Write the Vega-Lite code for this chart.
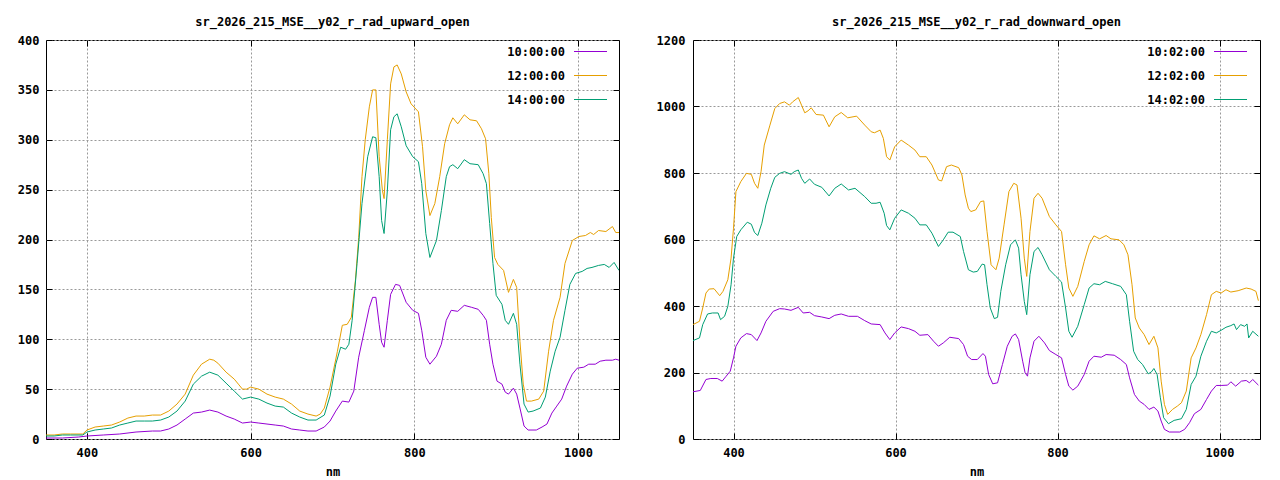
{
  "$schema": "https://vega.github.io/schema/vega-lite/v6.json",
  "background": "white",
  "padding": {"left": 5, "top": 15, "right": 5, "bottom": 5},
  "config": {
    "font": "DejaVu Sans Mono",
    "view": {"stroke": "black", "strokeWidth": 1},
    "title": {"font": "DejaVu Sans Mono", "fontSize": 12, "fontWeight": "bold", "color": "black", "offset": 5, "anchor": "middle"},
    "axis": {
      "domain": false,
      "tickColor": "black",
      "tickSize": -6,
      "labelFont": "DejaVu Sans Mono",
      "labelFontSize": 12,
      "labelFontWeight": "bold",
      "labelColor": "black",
      "labelPadding": 14,
      "format": "d",
      "grid": true,
      "gridColor": "#999999",
      "gridDash": [2, 2],
      "titleFont": "DejaVu Sans Mono",
      "titleFontSize": 12,
      "titleFontWeight": "bold",
      "titleColor": "black"
    },
    "legend": {
      "orient": "none",
      "legendY": -6,
      "title": null,
      "padding": 0,
      "symbolType": "stroke",
      "symbolSize": 1089,
      "symbolStrokeWidth": 1.2,
      "symbolOffset": 0,
      "labelOffset": -43,
      "labelAlign": "right",
      "labelFont": "DejaVu Sans Mono",
      "labelFontSize": 12,
      "labelFontWeight": "bold",
      "labelColor": "black",
      "rowPadding": -22
    }
  },
  "datasets": {
    "up": [
      {"t":"10:00:00","nm":350,"v":1},{"t":"10:00:00","nm":370,"v":1},{"t":"10:00:00","nm":390,"v":2},{"t":"10:00:00","nm":400,"v":3},{"t":"10:00:00","nm":420,"v":4},{"t":"10:00:00","nm":440,"v":5},{"t":"10:00:00","nm":460,"v":7},{"t":"10:00:00","nm":480,"v":8},{"t":"10:00:00","nm":490,"v":8},{"t":"10:00:00","nm":500,"v":10},{"t":"10:00:00","nm":510,"v":14},{"t":"10:00:00","nm":520,"v":20},{"t":"10:00:00","nm":530,"v":26},{"t":"10:00:00","nm":540,"v":27},{"t":"10:00:00","nm":550,"v":29},{"t":"10:00:00","nm":560,"v":27},{"t":"10:00:00","nm":570,"v":23},{"t":"10:00:00","nm":580,"v":20},{"t":"10:00:00","nm":590,"v":16},{"t":"10:00:00","nm":600,"v":17},{"t":"10:00:00","nm":610,"v":16},{"t":"10:00:00","nm":620,"v":15},{"t":"10:00:00","nm":630,"v":14},{"t":"10:00:00","nm":640,"v":13},{"t":"10:00:00","nm":650,"v":10},{"t":"10:00:00","nm":660,"v":9},{"t":"10:00:00","nm":670,"v":8},{"t":"10:00:00","nm":680,"v":8},{"t":"10:00:00","nm":690,"v":12},{"t":"10:00:00","nm":697,"v":18},{"t":"10:00:00","nm":704,"v":28},{"t":"10:00:00","nm":712,"v":38},{"t":"10:00:00","nm":720,"v":37},{"t":"10:00:00","nm":726,"v":48},{"t":"10:00:00","nm":732,"v":82},{"t":"10:00:00","nm":739,"v":109},{"t":"10:00:00","nm":745,"v":132},{"t":"10:00:00","nm":749,"v":142},{"t":"10:00:00","nm":753,"v":142},{"t":"10:00:00","nm":757,"v":115},{"t":"10:00:00","nm":760,"v":97},{"t":"10:00:00","nm":763,"v":92},{"t":"10:00:00","nm":767,"v":119},{"t":"10:00:00","nm":771,"v":145},{"t":"10:00:00","nm":777,"v":155},{"t":"10:00:00","nm":782,"v":154},{"t":"10:00:00","nm":790,"v":137},{"t":"10:00:00","nm":798,"v":129},{"t":"10:00:00","nm":805,"v":126},{"t":"10:00:00","nm":809,"v":109},{"t":"10:00:00","nm":814,"v":82},{"t":"10:00:00","nm":819,"v":75},{"t":"10:00:00","nm":827,"v":83},{"t":"10:00:00","nm":833,"v":95},{"t":"10:00:00","nm":839,"v":119},{"t":"10:00:00","nm":845,"v":129},{"t":"10:00:00","nm":853,"v":128},{"t":"10:00:00","nm":861,"v":134},{"t":"10:00:00","nm":870,"v":132},{"t":"10:00:00","nm":878,"v":130},{"t":"10:00:00","nm":884,"v":124},{"t":"10:00:00","nm":888,"v":119},{"t":"10:00:00","nm":892,"v":95},{"t":"10:00:00","nm":896,"v":75},{"t":"10:00:00","nm":901,"v":58},{"t":"10:00:00","nm":907,"v":55},{"t":"10:00:00","nm":911,"v":47},{"t":"10:00:00","nm":915,"v":45},{"t":"10:00:00","nm":921,"v":51},{"t":"10:00:00","nm":925,"v":45},{"t":"10:00:00","nm":929,"v":31},{"t":"10:00:00","nm":934,"v":13},{"t":"10:00:00","nm":939,"v":9},{"t":"10:00:00","nm":949,"v":9},{"t":"10:00:00","nm":956,"v":12},{"t":"10:00:00","nm":962,"v":15},{"t":"10:00:00","nm":968,"v":26},{"t":"10:00:00","nm":974,"v":33},{"t":"10:00:00","nm":980,"v":40},{"t":"10:00:00","nm":986,"v":53},{"t":"10:00:00","nm":993,"v":65},{"t":"10:00:00","nm":999,"v":71},{"t":"10:00:00","nm":1007,"v":72},{"t":"10:00:00","nm":1013,"v":75},{"t":"10:00:00","nm":1021,"v":75},{"t":"10:00:00","nm":1027,"v":78},{"t":"10:00:00","nm":1034,"v":79},{"t":"10:00:00","nm":1042,"v":79},{"t":"10:00:00","nm":1046,"v":80},{"t":"10:00:00","nm":1050,"v":79},
      {"t":"12:00:00","nm":350,"v":4},{"t":"12:00:00","nm":360,"v":4},{"t":"12:00:00","nm":370,"v":5},{"t":"12:00:00","nm":380,"v":5},{"t":"12:00:00","nm":395,"v":5},{"t":"12:00:00","nm":400,"v":9},{"t":"12:00:00","nm":410,"v":12},{"t":"12:00:00","nm":420,"v":13},{"t":"12:00:00","nm":430,"v":14},{"t":"12:00:00","nm":440,"v":17},{"t":"12:00:00","nm":450,"v":21},{"t":"12:00:00","nm":460,"v":23},{"t":"12:00:00","nm":470,"v":23},{"t":"12:00:00","nm":480,"v":24},{"t":"12:00:00","nm":490,"v":24},{"t":"12:00:00","nm":500,"v":28},{"t":"12:00:00","nm":510,"v":35},{"t":"12:00:00","nm":520,"v":45},{"t":"12:00:00","nm":530,"v":64},{"t":"12:00:00","nm":540,"v":75},{"t":"12:00:00","nm":550,"v":80},{"t":"12:00:00","nm":555,"v":79},{"t":"12:00:00","nm":560,"v":76},{"t":"12:00:00","nm":570,"v":67},{"t":"12:00:00","nm":580,"v":60},{"t":"12:00:00","nm":585,"v":55},{"t":"12:00:00","nm":590,"v":50},{"t":"12:00:00","nm":595,"v":50},{"t":"12:00:00","nm":600,"v":52},{"t":"12:00:00","nm":610,"v":50},{"t":"12:00:00","nm":620,"v":45},{"t":"12:00:00","nm":630,"v":42},{"t":"12:00:00","nm":640,"v":40},{"t":"12:00:00","nm":650,"v":35},{"t":"12:00:00","nm":660,"v":28},{"t":"12:00:00","nm":670,"v":25},{"t":"12:00:00","nm":680,"v":23},{"t":"12:00:00","nm":685,"v":25},{"t":"12:00:00","nm":690,"v":31},{"t":"12:00:00","nm":697,"v":52},{"t":"12:00:00","nm":706,"v":88},{"t":"12:00:00","nm":712,"v":114},{"t":"12:00:00","nm":718,"v":115},{"t":"12:00:00","nm":723,"v":122},{"t":"12:00:00","nm":728,"v":159},{"t":"12:00:00","nm":732,"v":202},{"t":"12:00:00","nm":736,"v":263},{"t":"12:00:00","nm":740,"v":300},{"t":"12:00:00","nm":745,"v":333},{"t":"12:00:00","nm":749,"v":350},{"t":"12:00:00","nm":753,"v":350},{"t":"12:00:00","nm":757,"v":283},{"t":"12:00:00","nm":761,"v":249},{"t":"12:00:00","nm":763,"v":241},{"t":"12:00:00","nm":767,"v":300},{"t":"12:00:00","nm":771,"v":356},{"t":"12:00:00","nm":775,"v":373},{"t":"12:00:00","nm":779,"v":375},{"t":"12:00:00","nm":784,"v":366},{"t":"12:00:00","nm":790,"v":348},{"t":"12:00:00","nm":796,"v":336},{"t":"12:00:00","nm":805,"v":328},{"t":"12:00:00","nm":810,"v":293},{"t":"12:00:00","nm":814,"v":249},{"t":"12:00:00","nm":819,"v":224},{"t":"12:00:00","nm":825,"v":236},{"t":"12:00:00","nm":831,"v":263},{"t":"12:00:00","nm":837,"v":296},{"t":"12:00:00","nm":843,"v":315},{"t":"12:00:00","nm":847,"v":322},{"t":"12:00:00","nm":853,"v":316},{"t":"12:00:00","nm":861,"v":325},{"t":"12:00:00","nm":868,"v":320},{"t":"12:00:00","nm":876,"v":319},{"t":"12:00:00","nm":882,"v":311},{"t":"12:00:00","nm":887,"v":301},{"t":"12:00:00","nm":891,"v":266},{"t":"12:00:00","nm":894,"v":222},{"t":"12:00:00","nm":898,"v":182},{"t":"12:00:00","nm":902,"v":175},{"t":"12:00:00","nm":909,"v":169},{"t":"12:00:00","nm":915,"v":147},{"t":"12:00:00","nm":921,"v":160},{"t":"12:00:00","nm":925,"v":152},{"t":"12:00:00","nm":929,"v":98},{"t":"12:00:00","nm":933,"v":55},{"t":"12:00:00","nm":937,"v":38},{"t":"12:00:00","nm":943,"v":38},{"t":"12:00:00","nm":952,"v":40},{"t":"12:00:00","nm":958,"v":48},{"t":"12:00:00","nm":964,"v":88},{"t":"12:00:00","nm":970,"v":119},{"t":"12:00:00","nm":978,"v":142},{"t":"12:00:00","nm":984,"v":176},{"t":"12:00:00","nm":993,"v":199},{"t":"12:00:00","nm":1001,"v":203},{"t":"12:00:00","nm":1009,"v":204},{"t":"12:00:00","nm":1015,"v":207},{"t":"12:00:00","nm":1019,"v":205},{"t":"12:00:00","nm":1025,"v":209},{"t":"12:00:00","nm":1034,"v":208},{"t":"12:00:00","nm":1042,"v":213},{"t":"12:00:00","nm":1046,"v":207},{"t":"12:00:00","nm":1050,"v":207},
      {"t":"14:00:00","nm":350,"v":3},{"t":"14:00:00","nm":360,"v":3},{"t":"14:00:00","nm":370,"v":4},{"t":"14:00:00","nm":380,"v":4},{"t":"14:00:00","nm":395,"v":4},{"t":"14:00:00","nm":400,"v":7},{"t":"14:00:00","nm":410,"v":9},{"t":"14:00:00","nm":420,"v":10},{"t":"14:00:00","nm":430,"v":11},{"t":"14:00:00","nm":440,"v":14},{"t":"14:00:00","nm":450,"v":16},{"t":"14:00:00","nm":460,"v":18},{"t":"14:00:00","nm":470,"v":18},{"t":"14:00:00","nm":480,"v":18},{"t":"14:00:00","nm":490,"v":19},{"t":"14:00:00","nm":500,"v":22},{"t":"14:00:00","nm":510,"v":28},{"t":"14:00:00","nm":520,"v":38},{"t":"14:00:00","nm":530,"v":55},{"t":"14:00:00","nm":540,"v":63},{"t":"14:00:00","nm":550,"v":67},{"t":"14:00:00","nm":560,"v":64},{"t":"14:00:00","nm":570,"v":56},{"t":"14:00:00","nm":580,"v":48},{"t":"14:00:00","nm":590,"v":40},{"t":"14:00:00","nm":600,"v":42},{"t":"14:00:00","nm":610,"v":40},{"t":"14:00:00","nm":620,"v":36},{"t":"14:00:00","nm":630,"v":33},{"t":"14:00:00","nm":640,"v":32},{"t":"14:00:00","nm":650,"v":26},{"t":"14:00:00","nm":660,"v":22},{"t":"14:00:00","nm":670,"v":19},{"t":"14:00:00","nm":680,"v":19},{"t":"14:00:00","nm":690,"v":24},{"t":"14:00:00","nm":697,"v":43},{"t":"14:00:00","nm":704,"v":75},{"t":"14:00:00","nm":710,"v":92},{"t":"14:00:00","nm":716,"v":90},{"t":"14:00:00","nm":720,"v":95},{"t":"14:00:00","nm":724,"v":119},{"t":"14:00:00","nm":730,"v":176},{"t":"14:00:00","nm":736,"v":236},{"t":"14:00:00","nm":743,"v":283},{"t":"14:00:00","nm":749,"v":303},{"t":"14:00:00","nm":753,"v":302},{"t":"14:00:00","nm":757,"v":263},{"t":"14:00:00","nm":760,"v":219},{"t":"14:00:00","nm":763,"v":206},{"t":"14:00:00","nm":767,"v":249},{"t":"14:00:00","nm":771,"v":310},{"t":"14:00:00","nm":775,"v":323},{"t":"14:00:00","nm":779,"v":326},{"t":"14:00:00","nm":784,"v":313},{"t":"14:00:00","nm":790,"v":294},{"t":"14:00:00","nm":798,"v":283},{"t":"14:00:00","nm":805,"v":278},{"t":"14:00:00","nm":809,"v":256},{"t":"14:00:00","nm":814,"v":206},{"t":"14:00:00","nm":819,"v":182},{"t":"14:00:00","nm":827,"v":199},{"t":"14:00:00","nm":833,"v":229},{"t":"14:00:00","nm":839,"v":263},{"t":"14:00:00","nm":843,"v":273},{"t":"14:00:00","nm":847,"v":275},{"t":"14:00:00","nm":853,"v":271},{"t":"14:00:00","nm":861,"v":280},{"t":"14:00:00","nm":868,"v":276},{"t":"14:00:00","nm":878,"v":275},{"t":"14:00:00","nm":884,"v":266},{"t":"14:00:00","nm":888,"v":256},{"t":"14:00:00","nm":892,"v":216},{"t":"14:00:00","nm":896,"v":176},{"t":"14:00:00","nm":900,"v":144},{"t":"14:00:00","nm":907,"v":135},{"t":"14:00:00","nm":911,"v":119},{"t":"14:00:00","nm":915,"v":115},{"t":"14:00:00","nm":921,"v":126},{"t":"14:00:00","nm":925,"v":115},{"t":"14:00:00","nm":929,"v":75},{"t":"14:00:00","nm":934,"v":35},{"t":"14:00:00","nm":939,"v":27},{"t":"14:00:00","nm":945,"v":28},{"t":"14:00:00","nm":954,"v":31},{"t":"14:00:00","nm":960,"v":42},{"t":"14:00:00","nm":966,"v":68},{"t":"14:00:00","nm":972,"v":88},{"t":"14:00:00","nm":978,"v":102},{"t":"14:00:00","nm":984,"v":129},{"t":"14:00:00","nm":990,"v":155},{"t":"14:00:00","nm":997,"v":166},{"t":"14:00:00","nm":1005,"v":168},{"t":"14:00:00","nm":1011,"v":171},{"t":"14:00:00","nm":1017,"v":172},{"t":"14:00:00","nm":1025,"v":174},{"t":"14:00:00","nm":1032,"v":175},{"t":"14:00:00","nm":1038,"v":172},{"t":"14:00:00","nm":1044,"v":177},{"t":"14:00:00","nm":1050,"v":169}
    ],
    "down": [
      {"t":"10:02:00","nm":350,"v":142},{"t":"10:02:00","nm":359,"v":146},{"t":"10:02:00","nm":366,"v":179},{"t":"10:02:00","nm":372,"v":182},{"t":"10:02:00","nm":380,"v":182},{"t":"10:02:00","nm":386,"v":174},{"t":"10:02:00","nm":391,"v":189},{"t":"10:02:00","nm":396,"v":204},{"t":"10:02:00","nm":400,"v":244},{"t":"10:02:00","nm":403,"v":279},{"t":"10:02:00","nm":409,"v":304},{"t":"10:02:00","nm":416,"v":317},{"t":"10:02:00","nm":422,"v":314},{"t":"10:02:00","nm":429,"v":296},{"t":"10:02:00","nm":434,"v":319},{"t":"10:02:00","nm":440,"v":354},{"t":"10:02:00","nm":449,"v":384},{"t":"10:02:00","nm":457,"v":392},{"t":"10:02:00","nm":463,"v":391},{"t":"10:02:00","nm":471,"v":387},{"t":"10:02:00","nm":480,"v":396},{"t":"10:02:00","nm":486,"v":379},{"t":"10:02:00","nm":494,"v":381},{"t":"10:02:00","nm":500,"v":371},{"t":"10:02:00","nm":509,"v":367},{"t":"10:02:00","nm":518,"v":362},{"t":"10:02:00","nm":525,"v":372},{"t":"10:02:00","nm":533,"v":376},{"t":"10:02:00","nm":542,"v":369},{"t":"10:02:00","nm":553,"v":369},{"t":"10:02:00","nm":562,"v":356},{"t":"10:02:00","nm":570,"v":346},{"t":"10:02:00","nm":581,"v":344},{"t":"10:02:00","nm":587,"v":319},{"t":"10:02:00","nm":593,"v":299},{"t":"10:02:00","nm":599,"v":319},{"t":"10:02:00","nm":607,"v":337},{"t":"10:02:00","nm":616,"v":332},{"t":"10:02:00","nm":624,"v":324},{"t":"10:02:00","nm":630,"v":312},{"t":"10:02:00","nm":640,"v":314},{"t":"10:02:00","nm":647,"v":294},{"t":"10:02:00","nm":653,"v":279},{"t":"10:02:00","nm":659,"v":289},{"t":"10:02:00","nm":667,"v":306},{"t":"10:02:00","nm":678,"v":302},{"t":"10:02:00","nm":684,"v":284},{"t":"10:02:00","nm":689,"v":249},{"t":"10:02:00","nm":694,"v":239},{"t":"10:02:00","nm":701,"v":239},{"t":"10:02:00","nm":708,"v":257},{"t":"10:02:00","nm":711,"v":249},{"t":"10:02:00","nm":715,"v":194},{"t":"10:02:00","nm":720,"v":166},{"t":"10:02:00","nm":726,"v":169},{"t":"10:02:00","nm":732,"v":224},{"t":"10:02:00","nm":738,"v":279},{"t":"10:02:00","nm":744,"v":309},{"t":"10:02:00","nm":748,"v":316},{"t":"10:02:00","nm":752,"v":299},{"t":"10:02:00","nm":757,"v":234},{"t":"10:02:00","nm":760,"v":199},{"t":"10:02:00","nm":763,"v":189},{"t":"10:02:00","nm":766,"v":244},{"t":"10:02:00","nm":771,"v":294},{"t":"10:02:00","nm":777,"v":309},{"t":"10:02:00","nm":784,"v":289},{"t":"10:02:00","nm":790,"v":266},{"t":"10:02:00","nm":798,"v":254},{"t":"10:02:00","nm":805,"v":244},{"t":"10:02:00","nm":810,"v":194},{"t":"10:02:00","nm":814,"v":159},{"t":"10:02:00","nm":819,"v":147},{"t":"10:02:00","nm":825,"v":159},{"t":"10:02:00","nm":833,"v":194},{"t":"10:02:00","nm":839,"v":234},{"t":"10:02:00","nm":845,"v":249},{"t":"10:02:00","nm":854,"v":246},{"t":"10:02:00","nm":860,"v":254},{"t":"10:02:00","nm":870,"v":252},{"t":"10:02:00","nm":878,"v":239},{"t":"10:02:00","nm":885,"v":224},{"t":"10:02:00","nm":889,"v":184},{"t":"10:02:00","nm":895,"v":134},{"t":"10:02:00","nm":901,"v":114},{"t":"10:02:00","nm":907,"v":104},{"t":"10:02:00","nm":913,"v":89},{"t":"10:02:00","nm":919,"v":96},{"t":"10:02:00","nm":924,"v":84},{"t":"10:02:00","nm":928,"v":54},{"t":"10:02:00","nm":932,"v":29},{"t":"10:02:00","nm":938,"v":21},{"t":"10:02:00","nm":951,"v":21},{"t":"10:02:00","nm":957,"v":29},{"t":"10:02:00","nm":963,"v":49},{"t":"10:02:00","nm":969,"v":76},{"t":"10:02:00","nm":977,"v":89},{"t":"10:02:00","nm":984,"v":119},{"t":"10:02:00","nm":990,"v":144},{"t":"10:02:00","nm":996,"v":161},{"t":"10:02:00","nm":1002,"v":161},{"t":"10:02:00","nm":1010,"v":162},{"t":"10:02:00","nm":1014,"v":172},{"t":"10:02:00","nm":1020,"v":159},{"t":"10:02:00","nm":1027,"v":174},{"t":"10:02:00","nm":1033,"v":176},{"t":"10:02:00","nm":1037,"v":169},{"t":"10:02:00","nm":1041,"v":179},{"t":"10:02:00","nm":1048,"v":162},
      {"t":"12:02:00","nm":350,"v":344},{"t":"12:02:00","nm":358,"v":354},{"t":"12:02:00","nm":362,"v":394},{"t":"12:02:00","nm":366,"v":439},{"t":"12:02:00","nm":370,"v":451},{"t":"12:02:00","nm":376,"v":452},{"t":"12:02:00","nm":383,"v":431},{"t":"12:02:00","nm":387,"v":444},{"t":"12:02:00","nm":393,"v":479},{"t":"12:02:00","nm":397,"v":544},{"t":"12:02:00","nm":400,"v":634},{"t":"12:02:00","nm":403,"v":744},{"t":"12:02:00","nm":409,"v":774},{"t":"12:02:00","nm":416,"v":799},{"t":"12:02:00","nm":422,"v":796},{"t":"12:02:00","nm":426,"v":769},{"t":"12:02:00","nm":430,"v":754},{"t":"12:02:00","nm":434,"v":804},{"t":"12:02:00","nm":438,"v":884},{"t":"12:02:00","nm":445,"v":944},{"t":"12:02:00","nm":451,"v":994},{"t":"12:02:00","nm":457,"v":1009},{"t":"12:02:00","nm":463,"v":1014},{"t":"12:02:00","nm":469,"v":1004},{"t":"12:02:00","nm":473,"v":1014},{"t":"12:02:00","nm":480,"v":1027},{"t":"12:02:00","nm":484,"v":1004},{"t":"12:02:00","nm":488,"v":981},{"t":"12:02:00","nm":492,"v":987},{"t":"12:02:00","nm":496,"v":996},{"t":"12:02:00","nm":502,"v":976},{"t":"12:02:00","nm":511,"v":974},{"t":"12:02:00","nm":518,"v":939},{"t":"12:02:00","nm":525,"v":969},{"t":"12:02:00","nm":533,"v":982},{"t":"12:02:00","nm":541,"v":966},{"t":"12:02:00","nm":552,"v":971},{"t":"12:02:00","nm":562,"v":944},{"t":"12:02:00","nm":570,"v":924},{"t":"12:02:00","nm":574,"v":921},{"t":"12:02:00","nm":581,"v":929},{"t":"12:02:00","nm":585,"v":904},{"t":"12:02:00","nm":589,"v":849},{"t":"12:02:00","nm":593,"v":839},{"t":"12:02:00","nm":599,"v":879},{"t":"12:02:00","nm":607,"v":899},{"t":"12:02:00","nm":616,"v":884},{"t":"12:02:00","nm":624,"v":869},{"t":"12:02:00","nm":630,"v":849},{"t":"12:02:00","nm":638,"v":849},{"t":"12:02:00","nm":645,"v":824},{"t":"12:02:00","nm":653,"v":779},{"t":"12:02:00","nm":657,"v":776},{"t":"12:02:00","nm":663,"v":819},{"t":"12:02:00","nm":669,"v":824},{"t":"12:02:00","nm":678,"v":816},{"t":"12:02:00","nm":682,"v":794},{"t":"12:02:00","nm":686,"v":734},{"t":"12:02:00","nm":690,"v":694},{"t":"12:02:00","nm":693,"v":684},{"t":"12:02:00","nm":699,"v":689},{"t":"12:02:00","nm":705,"v":714},{"t":"12:02:00","nm":709,"v":716},{"t":"12:02:00","nm":713,"v":624},{"t":"12:02:00","nm":718,"v":524},{"t":"12:02:00","nm":724,"v":509},{"t":"12:02:00","nm":728,"v":544},{"t":"12:02:00","nm":734,"v":644},{"t":"12:02:00","nm":740,"v":744},{"t":"12:02:00","nm":746,"v":769},{"t":"12:02:00","nm":750,"v":764},{"t":"12:02:00","nm":755,"v":664},{"t":"12:02:00","nm":759,"v":544},{"t":"12:02:00","nm":762,"v":489},{"t":"12:02:00","nm":766,"v":624},{"t":"12:02:00","nm":771,"v":724},{"t":"12:02:00","nm":776,"v":739},{"t":"12:02:00","nm":781,"v":724},{"t":"12:02:00","nm":790,"v":669},{"t":"12:02:00","nm":798,"v":644},{"t":"12:02:00","nm":805,"v":624},{"t":"12:02:00","nm":810,"v":524},{"t":"12:02:00","nm":814,"v":454},{"t":"12:02:00","nm":819,"v":429},{"t":"12:02:00","nm":825,"v":459},{"t":"12:02:00","nm":833,"v":534},{"t":"12:02:00","nm":839,"v":584},{"t":"12:02:00","nm":845,"v":611},{"t":"12:02:00","nm":852,"v":602},{"t":"12:02:00","nm":860,"v":612},{"t":"12:02:00","nm":866,"v":602},{"t":"12:02:00","nm":876,"v":599},{"t":"12:02:00","nm":882,"v":584},{"t":"12:02:00","nm":887,"v":554},{"t":"12:02:00","nm":892,"v":464},{"t":"12:02:00","nm":896,"v":364},{"t":"12:02:00","nm":901,"v":334},{"t":"12:02:00","nm":907,"v":314},{"t":"12:02:00","nm":913,"v":284},{"t":"12:02:00","nm":919,"v":309},{"t":"12:02:00","nm":924,"v":274},{"t":"12:02:00","nm":928,"v":174},{"t":"12:02:00","nm":932,"v":104},{"t":"12:02:00","nm":936,"v":74},{"t":"12:02:00","nm":942,"v":89},{"t":"12:02:00","nm":948,"v":99},{"t":"12:02:00","nm":953,"v":109},{"t":"12:02:00","nm":959,"v":144},{"t":"12:02:00","nm":965,"v":244},{"t":"12:02:00","nm":971,"v":274},{"t":"12:02:00","nm":977,"v":314},{"t":"12:02:00","nm":984,"v":374},{"t":"12:02:00","nm":990,"v":434},{"t":"12:02:00","nm":996,"v":444},{"t":"12:02:00","nm":1002,"v":439},{"t":"12:02:00","nm":1008,"v":449},{"t":"12:02:00","nm":1014,"v":442},{"t":"12:02:00","nm":1023,"v":446},{"t":"12:02:00","nm":1033,"v":454},{"t":"12:02:00","nm":1039,"v":451},{"t":"12:02:00","nm":1045,"v":444},{"t":"12:02:00","nm":1048,"v":416},
      {"t":"14:02:00","nm":350,"v":296},{"t":"14:02:00","nm":358,"v":304},{"t":"14:02:00","nm":362,"v":344},{"t":"14:02:00","nm":368,"v":376},{"t":"14:02:00","nm":374,"v":379},{"t":"14:02:00","nm":381,"v":379},{"t":"14:02:00","nm":384,"v":359},{"t":"14:02:00","nm":389,"v":369},{"t":"14:02:00","nm":393,"v":399},{"t":"14:02:00","nm":397,"v":464},{"t":"14:02:00","nm":400,"v":544},{"t":"14:02:00","nm":404,"v":609},{"t":"14:02:00","nm":409,"v":629},{"t":"14:02:00","nm":417,"v":652},{"t":"14:02:00","nm":422,"v":646},{"t":"14:02:00","nm":426,"v":621},{"t":"14:02:00","nm":430,"v":612},{"t":"14:02:00","nm":435,"v":649},{"t":"14:02:00","nm":440,"v":704},{"t":"14:02:00","nm":446,"v":754},{"t":"14:02:00","nm":451,"v":787},{"t":"14:02:00","nm":457,"v":799},{"t":"14:02:00","nm":463,"v":804},{"t":"14:02:00","nm":471,"v":796},{"t":"14:02:00","nm":475,"v":804},{"t":"14:02:00","nm":480,"v":809},{"t":"14:02:00","nm":484,"v":784},{"t":"14:02:00","nm":488,"v":769},{"t":"14:02:00","nm":494,"v":782},{"t":"14:02:00","nm":500,"v":766},{"t":"14:02:00","nm":509,"v":757},{"t":"14:02:00","nm":518,"v":731},{"t":"14:02:00","nm":525,"v":754},{"t":"14:02:00","nm":533,"v":767},{"t":"14:02:00","nm":542,"v":749},{"t":"14:02:00","nm":550,"v":754},{"t":"14:02:00","nm":562,"v":729},{"t":"14:02:00","nm":570,"v":709},{"t":"14:02:00","nm":576,"v":709},{"t":"14:02:00","nm":581,"v":712},{"t":"14:02:00","nm":586,"v":679},{"t":"14:02:00","nm":589,"v":642},{"t":"14:02:00","nm":593,"v":629},{"t":"14:02:00","nm":599,"v":664},{"t":"14:02:00","nm":607,"v":689},{"t":"14:02:00","nm":616,"v":679},{"t":"14:02:00","nm":624,"v":664},{"t":"14:02:00","nm":630,"v":644},{"t":"14:02:00","nm":638,"v":644},{"t":"14:02:00","nm":645,"v":619},{"t":"14:02:00","nm":653,"v":579},{"t":"14:02:00","nm":659,"v":599},{"t":"14:02:00","nm":665,"v":622},{"t":"14:02:00","nm":671,"v":622},{"t":"14:02:00","nm":680,"v":609},{"t":"14:02:00","nm":684,"v":564},{"t":"14:02:00","nm":690,"v":509},{"t":"14:02:00","nm":696,"v":502},{"t":"14:02:00","nm":701,"v":504},{"t":"14:02:00","nm":707,"v":526},{"t":"14:02:00","nm":710,"v":524},{"t":"14:02:00","nm":713,"v":464},{"t":"14:02:00","nm":717,"v":394},{"t":"14:02:00","nm":722,"v":362},{"t":"14:02:00","nm":726,"v":366},{"t":"14:02:00","nm":730,"v":444},{"t":"14:02:00","nm":736,"v":524},{"t":"14:02:00","nm":742,"v":584},{"t":"14:02:00","nm":748,"v":599},{"t":"14:02:00","nm":752,"v":574},{"t":"14:02:00","nm":755,"v":494},{"t":"14:02:00","nm":759,"v":414},{"t":"14:02:00","nm":762,"v":374},{"t":"14:02:00","nm":766,"v":494},{"t":"14:02:00","nm":771,"v":564},{"t":"14:02:00","nm":776,"v":576},{"t":"14:02:00","nm":781,"v":554},{"t":"14:02:00","nm":790,"v":509},{"t":"14:02:00","nm":798,"v":489},{"t":"14:02:00","nm":805,"v":472},{"t":"14:02:00","nm":810,"v":394},{"t":"14:02:00","nm":814,"v":324},{"t":"14:02:00","nm":818,"v":306},{"t":"14:02:00","nm":825,"v":339},{"t":"14:02:00","nm":833,"v":404},{"t":"14:02:00","nm":839,"v":454},{"t":"14:02:00","nm":845,"v":467},{"t":"14:02:00","nm":852,"v":464},{"t":"14:02:00","nm":859,"v":474},{"t":"14:02:00","nm":868,"v":467},{"t":"14:02:00","nm":878,"v":459},{"t":"14:02:00","nm":885,"v":434},{"t":"14:02:00","nm":889,"v":354},{"t":"14:02:00","nm":894,"v":264},{"t":"14:02:00","nm":899,"v":239},{"t":"14:02:00","nm":905,"v":224},{"t":"14:02:00","nm":912,"v":196},{"t":"14:02:00","nm":916,"v":202},{"t":"14:02:00","nm":919,"v":212},{"t":"14:02:00","nm":923,"v":194},{"t":"14:02:00","nm":927,"v":124},{"t":"14:02:00","nm":931,"v":64},{"t":"14:02:00","nm":937,"v":46},{"t":"14:02:00","nm":944,"v":56},{"t":"14:02:00","nm":953,"v":61},{"t":"14:02:00","nm":959,"v":89},{"t":"14:02:00","nm":965,"v":164},{"t":"14:02:00","nm":971,"v":189},{"t":"14:02:00","nm":977,"v":249},{"t":"14:02:00","nm":984,"v":294},{"t":"14:02:00","nm":990,"v":324},{"t":"14:02:00","nm":996,"v":319},{"t":"14:02:00","nm":1002,"v":327},{"t":"14:02:00","nm":1008,"v":336},{"t":"14:02:00","nm":1014,"v":341},{"t":"14:02:00","nm":1018,"v":346},{"t":"14:02:00","nm":1021,"v":329},{"t":"14:02:00","nm":1026,"v":344},{"t":"14:02:00","nm":1031,"v":339},{"t":"14:02:00","nm":1034,"v":346},{"t":"14:02:00","nm":1036,"v":304},{"t":"14:02:00","nm":1041,"v":324},{"t":"14:02:00","nm":1048,"v":309}
    ]
  },
  "spacing": 24,
  "resolve": {"scale": {"color": "independent"}, "legend": {"color": "independent"}},
  "hconcat": [
    {
      "title": "sr_2026_215_MSE__y02_r_rad_upward_open",
      "width": 573,
      "height": 399,
      "data": {"name": "up"},
      "resolve": {"axis": {"x": "independent", "y": "independent"}},
      "layer": [
        {
          "mark": {"type": "line", "strokeWidth": 1, "clip": true},
          "encoding": {
            "x": {"field": "nm", "type": "quantitative", "scale": {"domain": [350, 1050], "nice": false, "zero": false},
                  "axis": {"values": [400, 600, 800, 1000], "title": "nm", "titlePadding": 8}},
            "y": {"field": "v", "type": "quantitative", "scale": {"domain": [0, 400], "nice": false},
                  "axis": {"values": [0, 50, 100, 150, 200, 250, 300, 350, 400], "title": null, "minExtent": 40, "maxExtent": 40, "labelPadding": 13}},
            "color": {"field": "t", "type": "nominal",
                      "scale": {"domain": ["10:00:00", "12:00:00", "14:00:00"], "range": ["#9400d3", "#e69f00", "#009e73"]},
                      "legend": {"legendX": 527}}
          }
        },
        {
          "mark": {"type": "point", "opacity": 0},
          "encoding": {
            "x": {"field": "nm", "type": "quantitative", "scale": {"domain": [350, 1050], "nice": false, "zero": false},
                  "axis": {"orient": "top", "values": [400, 600, 800, 1000], "labels": false, "grid": false, "title": null, "minExtent": 0, "maxExtent": 0}},
            "y": {"field": "v", "type": "quantitative", "scale": {"domain": [0, 400], "nice": false},
                  "axis": {"orient": "right", "values": [0, 50, 100, 150, 200, 250, 300, 350, 400], "labels": false, "grid": false, "title": null, "minExtent": 0, "maxExtent": 0}}
          }
        }
      ]
    },
    {
      "title": "sr_2026_215_MSE__y02_r_rad_downward_open",
      "width": 567,
      "height": 399,
      "data": {"name": "down"},
      "resolve": {"axis": {"x": "independent", "y": "independent"}},
      "layer": [
        {
          "mark": {"type": "line", "strokeWidth": 1, "clip": true},
          "encoding": {
            "x": {"field": "nm", "type": "quantitative", "scale": {"domain": [350, 1050], "nice": false, "zero": false},
                  "axis": {"values": [400, 600, 800, 1000], "title": "nm", "titlePadding": 8}},
            "y": {"field": "v", "type": "quantitative", "scale": {"domain": [0, 1200], "nice": false},
                  "axis": {"values": [0, 200, 400, 600, 800, 1000, 1200], "title": null, "minExtent": 45, "maxExtent": 45, "labelPadding": 14}},
            "color": {"field": "t", "type": "nominal",
                      "scale": {"domain": ["10:02:00", "12:02:00", "14:02:00"], "range": ["#9400d3", "#e69f00", "#009e73"]},
                      "legend": {"legendX": 520}}
          }
        },
        {
          "mark": {"type": "point", "opacity": 0},
          "encoding": {
            "x": {"field": "nm", "type": "quantitative", "scale": {"domain": [350, 1050], "nice": false, "zero": false},
                  "axis": {"orient": "top", "values": [400, 600, 800, 1000], "labels": false, "grid": false, "title": null, "minExtent": 0, "maxExtent": 0}},
            "y": {"field": "v", "type": "quantitative", "scale": {"domain": [0, 1200], "nice": false},
                  "axis": {"orient": "right", "values": [0, 200, 400, 600, 800, 1000, 1200], "labels": false, "grid": false, "title": null, "minExtent": 0, "maxExtent": 0}}
          }
        }
      ]
    }
  ]
}
